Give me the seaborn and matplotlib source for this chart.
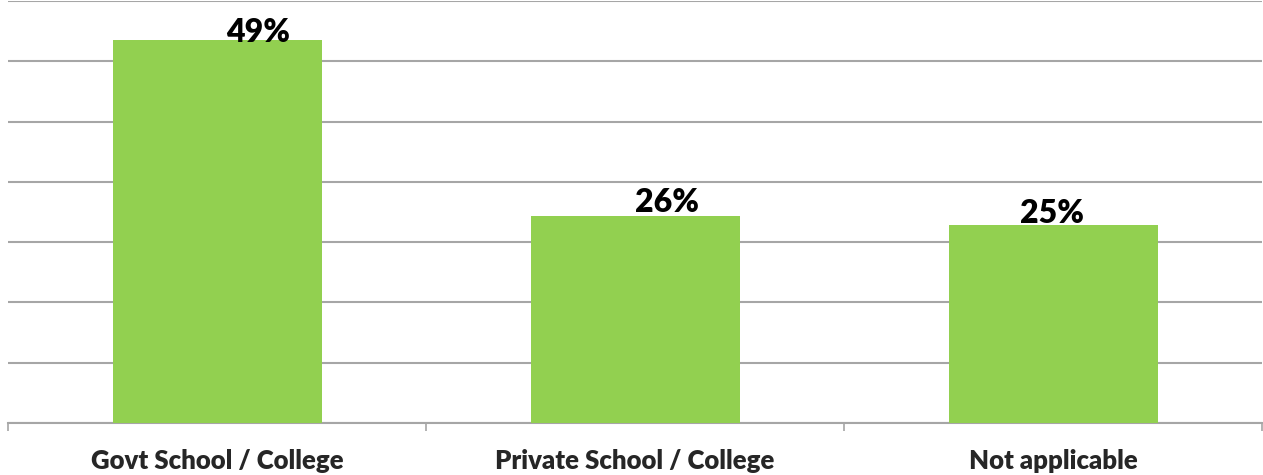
import matplotlib
matplotlib.use('Agg')
import matplotlib.pyplot as plt
import seaborn as sns
import pandas as pd
import numpy as np

# data
categories = ['Govt School / College', 'Private School / College', 'Not applicable']
shares = [48.6, 26.3, 25.1]
labels = ['49%', '26%', '25%']

sns.set_style('white')
plt.rcParams['font.family'] = ['Lato', 'DejaVu Sans']

df = pd.DataFrame({'category': categories, 'share': shares})

fig = plt.figure(figsize=(12.63, 4.75), dpi=100)
ax = fig.add_axes([8 / 1263, 52 / 475, 1254 / 1263, 422 / 475])

sns.barplot(data=df, x='category', y='share', color='#92D050', width=0.5,
            saturation=1, linewidth=0, ax=ax, zorder=3)

ymax = 53.5
ax.set_ylim(0, ymax)
ax.set_xlim(-0.5, 2.5)
ax.set_yticks(np.linspace(0, ymax, 8))
ax.yaxis.grid(True, color='#a6a6a6', linewidth=1.5, zorder=0)
ax.set_axisbelow(True)
ax.tick_params(axis='y', left=False, labelleft=False)

for s in ['top', 'left', 'right']:
    ax.spines[s].set_visible(False)
ax.spines['bottom'].set_color('#a6a6a6')
ax.spines['bottom'].set_linewidth(1.5)

# category separators below the baseline
ax.set_xticks([-0.5, 0.5, 1.5, 2.5], minor=True)
ax.tick_params(axis='x', which='minor', length=6, width=1.2, color='#a6a6a6', bottom=True)
ax.tick_params(axis='x', which='major', length=0, pad=19)
ax.set_xticks(range(len(categories)))
ax.set_xticklabels(categories, fontsize=18.5, fontweight='heavy')
ax.set_xlabel('')
ax.set_ylabel('')

# data labels (manually nudged as in the source chart)
nudges = [(41, -2), (32, 4), (-1, 2)]
for i, (v, lab) in enumerate(zip(shares, labels)):
    dx, dy = nudges[i]
    ax.annotate(lab, (i, v), xytext=(dx, dy), textcoords='offset pixels',
                ha='center', va='baseline', fontsize=23, fontweight='heavy',
                color='black', zorder=5)

plt.savefig('out.png', dpi=100)
